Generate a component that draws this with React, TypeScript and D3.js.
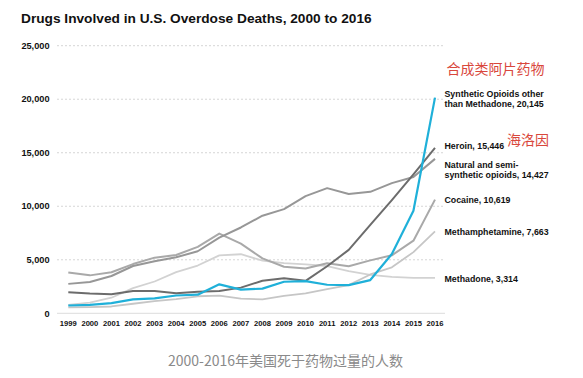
import React from "react";
import * as d3 from "d3";

const years = [1999,2000,2001,2002,2003,2004,2005,2006,2007,2008,2009,2010,2011,2012,2013,2014,2015,2016];
const synthetic = [730,782,957,1295,1400,1664,1742,2707,2213,2306,2946,3007,2666,2628,3105,5544,9580,20145];
const heroin = [1960,1842,1779,2089,2080,1878,2009,2088,2399,3041,3278,3036,4397,5925,8257,10574,12989,15446];
const natural = [2749,2917,3484,4416,4867,5229,5798,7063,8017,9119,9735,10943,11693,11140,11346,12159,12727,14427];
const cocaine = [3822,3544,3833,4599,5199,5443,6208,7448,6512,5129,4350,4183,4681,4404,4944,5415,6784,10619];
const meth = [547,578,637,891,1131,1332,1591,1656,1378,1302,1632,1854,2266,2635,3627,4298,5716,7663];
const methadone = [784,988,1456,2358,2972,3845,4460,5406,5518,4924,4696,4577,4418,3932,3591,3400,3301,3314];
const yTicks = [0,5000,10000,15000,20000,25000];

const title = "Drugs Involved in U.S. Overdose Deaths, 2000 to 2016";
const caption = "2000-2016年美国死于药物过量的人数";

const W = 583, H = 378;
const x = d3.scaleLinear().domain([1999, 2016]).range([68.3, 435]);
const y = d3.scaleLinear().domain([0, 25000]).range([313.3, 45.7]);

const series = [
  { name: "methadone", values: methadone, color: "#d2d2d2", width: 1.8 },
  { name: "meth", values: meth, color: "#c6c6c6", width: 1.8 },
  { name: "cocaine", values: cocaine, color: "#a9a9a9", width: 2 },
  { name: "natural", values: natural, color: "#979797", width: 2 },
  { name: "heroin", values: heroin, color: "#6c6c6c", width: 2 },
  { name: "synthetic", values: synthetic, color: "#1fb0d9", width: 2.2 },
];

const labels = [
  { lines: ["Synthetic Opioids other", "than Methadone, 20,145"], y: 96.6 },
  { lines: ["Heroin, 15,446"], y: 149.3 },
  { lines: ["Natural and semi-", "synthetic opioids, 14,427"], y: 168.4 },
  { lines: ["Cocaine, 10,619"], y: 203.1 },
  { lines: ["Methamphetamine, 7,663"], y: 234.8 },
  { lines: ["Methadone, 3,314"], y: 281.8 },
];

const line = d3.line<number>().x((_, i) => x(years[i])).y((d) => y(d));

export default function App() {
  const font = "'Liberation Sans', Arial, sans-serif";
  return (
    <svg width={W} height={H} style={{ position: "absolute", left: 0, top: 0, background: "#fff" }}>
      <rect width={W} height={H} fill="#fff" />
      <text x={21} y={22.7} fontFamily={font} fontWeight="bold" fontSize={13.7} fill="#111">{title}</text>
      {yTicks.map((t) => (
        <g key={t}>
          <line x1={57} x2={445} y1={y(t)} y2={y(t)} stroke={t === 0 ? "#dcdcdc" : "#d6d6d6"} strokeWidth={1} strokeDasharray={t === 0 ? undefined : "2,2"} />
          <text x={49.5} y={y(t) + 3.2} textAnchor="end" fontFamily={font} fontWeight="bold" fontSize={9.2} fill="#111">{d3.format(",")(t)}</text>
        </g>
      ))}
      {years.map((yr) => (
        <text key={yr} x={x(yr)} y={325.7} textAnchor="middle" fontFamily={font} fontWeight="bold" fontSize={7.6} fill="#111">{yr}</text>
      ))}
      {series.map((s) => (
        <path key={s.name} d={line(s.values) || ""} fill="none" stroke={s.color} strokeWidth={s.width} strokeLinejoin="round" />
      ))}
      {labels.map((l, i) => (
        <text key={i} x={444.5} y={l.y} fontFamily={font} fontWeight="bold" fontSize={8.8} fill="#111">
          {l.lines.map((ln, j) => (
            <tspan key={j} x={444.5} dy={j === 0 ? 0 : 10}>{ln}</tspan>
          ))}
        </text>
      ))}
      <text x={446.5} y={73.5} fontFamily="'Noto Sans CJK SC', sans-serif" fontSize={14} fill="#d9473c">合成类阿片药物</text>
      <text x={507} y={145} fontFamily="'Noto Sans CJK SC', sans-serif" fontSize={14} fill="#d9473c">海洛因</text>
      <text x={285.5} y={366} textAnchor="middle" fontFamily="'Noto Sans CJK SC', sans-serif" fontSize={14} fill="#8a8a8a">{caption}</text>
    </svg>
  );
}
